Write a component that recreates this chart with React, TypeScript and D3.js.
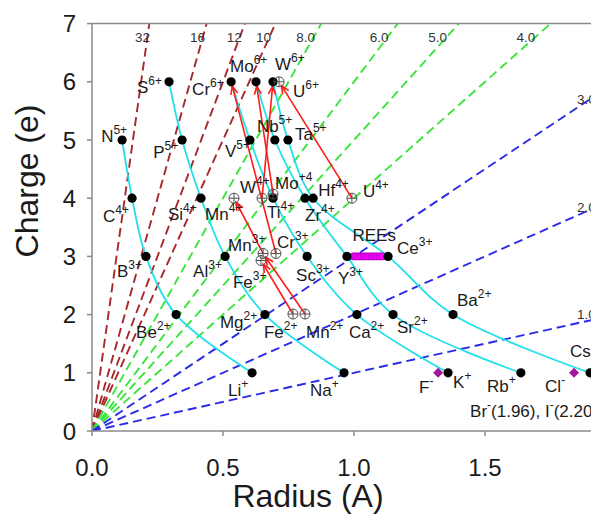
import React from 'react';
import * as d3 from 'd3';

const WIDTH = 591;
const HEIGHT = 519;

type Ion = { id: string; lab: string; sup: string; r: number; z: number };

// Isoelectronic series (black dots joined by cyan curves)
const heSeries: Ion[] = [
  { id: 'N5+', lab: 'N', sup: '5+', r: 0.115, z: 5 },
  { id: 'C4+', lab: 'C', sup: '4+', r: 0.153, z: 4 },
  { id: 'B3+', lab: 'B', sup: '3+', r: 0.206, z: 3 },
  { id: 'Be2+', lab: 'Be', sup: '2+', r: 0.321, z: 2 },
  { id: 'Li+', lab: 'Li', sup: '+', r: 0.611, z: 1 },
];
const neSeries: Ion[] = [
  { id: 'S6+', lab: 'S', sup: '6+', r: 0.294, z: 6 },
  { id: 'P5+', lab: 'P', sup: '5+', r: 0.344, z: 5 },
  { id: 'Si4+', lab: 'Si', sup: '4+', r: 0.416, z: 4 },
  { id: 'Al3+', lab: 'Al', sup: '3+', r: 0.508, z: 3 },
  { id: 'Mg2+', lab: 'Mg', sup: '2+', r: 0.66, z: 2 },
  { id: 'Na+', lab: 'Na', sup: '+', r: 0.962, z: 1 },
];
const arSeries: Ion[] = [
  { id: 'Cr6+', lab: 'Cr', sup: '6+', r: 0.531, z: 6 },
  { id: 'V5+', lab: 'V', sup: '5+', r: 0.603, z: 5 },
  { id: 'Ti4+', lab: 'Ti', sup: '4+', r: 0.691, z: 4 },
  { id: 'Sc3+', lab: 'Sc', sup: '3+', r: 0.821, z: 3 },
  { id: 'Ca2+', lab: 'Ca', sup: '2+', r: 1.011, z: 2 },
  { id: 'K+', lab: 'K', sup: '+', r: 1.359, z: 1 },
];
const krSeries: Ion[] = [
  { id: 'Mo6+', lab: 'Mo', sup: '6+', r: 0.626, z: 6 },
  { id: 'Nb5+', lab: 'Nb', sup: '5+', r: 0.698, z: 5 },
  { id: 'Zr4+', lab: 'Zr', sup: '4+', r: 0.813, z: 4 },
  { id: 'Y3+', lab: 'Y', sup: '3+', r: 0.973, z: 3 },
  { id: 'Sr2+', lab: 'Sr', sup: '2+', r: 1.149, z: 2 },
  { id: 'Rb+', lab: 'Rb', sup: '+', r: 1.637, z: 1 },
];
const xeSeries: Ion[] = [
  { id: 'W6+', lab: 'W', sup: '6+', r: 0.691, z: 6 },
  { id: 'Ta5+', lab: 'Ta', sup: '5+', r: 0.748, z: 5 },
  { id: 'Hf4+', lab: 'Hf', sup: '4+', r: 0.844, z: 4 },
  { id: 'Ce3+', lab: 'Ce', sup: '3+', r: 1.13, z: 3 },
  { id: 'Ba2+', lab: 'Ba', sup: '2+', r: 1.378, z: 2 },
  { id: 'Cs+', lab: 'Cs', sup: '+', r: 1.901, z: 1 },
];

// Redox-sensitive ions (circle-plus symbols)
const redoxIons: Ion[] = [
  { id: 'U6+', lab: 'U', sup: '6+', r: 0.714, z: 6 },
  { id: 'Mn4+', lab: 'Mn', sup: '4+', r: 0.542, z: 4 },
  { id: 'W4+', lab: 'W', sup: '4+', r: 0.649, z: 4 },
  { id: 'Mo4+', lab: 'Mo', sup: '+4', r: 0.691, z: 4.07 },
  { id: 'U4+', lab: 'U', sup: '4+', r: 0.992, z: 4 },
  { id: 'Mn3+', lab: 'Mn', sup: '3+', r: 0.653, z: 3.05 },
  { id: 'Fe3+', lab: 'Fe', sup: '3+', r: 0.645, z: 2.93 },
  { id: 'Cr3+', lab: 'Cr', sup: '3+', r: 0.702, z: 3.05 },
  { id: 'Fe2+', lab: 'Fe', sup: '2+', r: 0.767, z: 2.01 },
  { id: 'Mn2+', lab: 'Mn', sup: '2+', r: 0.813, z: 2.01 },
];

// Anions (purple diamonds), plotted at |charge|
const anions: Ion[] = [
  { id: 'F-', lab: 'F', sup: '-', r: 1.321, z: 1 },
  { id: 'Cl-', lab: 'Cl', sup: '-', r: 1.84, z: 1 },
];

// Rare earth elements band
const reeRadii = [0.998, 1.008, 1.018, 1.028, 1.038, 1.048, 1.058, 1.068, 1.078, 1.088, 1.098, 1.108];
const reeCharge = 3;

const redoxArrows: [string, string][] = [
  ['Fe2+', 'Fe3+'],
  ['Mn2+', 'Mn3+'],
  ['Mn3+', 'Mn4+'],
  ['Cr3+', 'Cr6+'],
  ['W4+', 'W6+'],
  ['Mo4+', 'Mo6+'],
  ['U4+', 'U6+'],
];

// Ionic potential lines Z/r
const ionicPotentials = [32, 16, 12, 10, 8, 6, 5, 4, 3, 2, 1];
const ipLabels = ['32', '16', '12', '10', '8.0', '6.0', '5.0', '4.0', '3.0', '2.0', '1.0'];

const xTicks = [0, 0.5, 1.0, 1.5];
const xTickLabels = ['0.0', '0.5', '1.0', '1.5'];
const yTicks = [0, 1, 2, 3, 4, 5, 6, 7];

// Layout: label offsets (px) from marker to text start / baseline
const labelOffsets: Record<string, [number, number]> = {
  'N5+': [-21, 2], 'C4+': [-29, 24], 'B3+': [-29, 21], 'Be2+': [-40, 23], 'Li+': [-24, 23],
  'S6+': [-32, 11], 'P5+': [-29, 18], 'Si4+': [-33, 22], 'Al3+': [-32, 21], 'Mg2+': [-45, 13], 'Na+': [-34, 23],
  'Cr6+': [-39, 13], 'V5+': [-25, 17], 'Ti4+': [-6, 20], 'Sc3+': [-11, 25], 'Ca2+': [-8, 23], 'K+': [5, 15],
  'Mo6+': [-26, -10], 'Nb5+': [-18, -8], 'Zr4+': [0, 23], 'Y3+': [-9, 28], 'Sr2+': [4, 18], 'Rb+': [-34, 19],
  'W6+': [2, -12], 'Ta5+': [7, 0], 'Hf4+': [5, -2], 'Ce3+': [9, -2], 'Ba2+': [4, -9], 'Cs+': [-20, -16],
  'U6+': [14, 15], 'Mn4+': [-29, 22], 'W4+': [-22, -5], 'Mo4+': [2, -5], 'U4+': [11, -1],
  'Mn3+': [-35, -2], 'Fe3+': [-28, 28], 'Cr3+': [1, -5], 'Fe2+': [-29, 24], 'Mn2+': [1, 24],
  'F-': [-19, 20], 'Cl-': [-29, 19],
};

const FONT = 'Liberation Sans, Arial, Helvetica, sans-serif';
const RED_DASH = '#a8282a';
const GREEN_DASH = '#3ae43a';
const BLUE_DASH = '#2a2ae8';
const CYAN = '#22e0ea';
const ARROW_RED = '#ff1a1a';
const AXIS = '#8a8a8a';

const x = d3.scaleLinear().domain([0, 2]).range([92, 92 + 2 * 262]);
const y = d3.scaleLinear().domain([0, 7]).range([431, 431 - 7 * 58.2]);

const curve = d3
  .line<Ion>()
  .x((d) => x(d.r))
  .y((d) => y(d.z))
  .curve(d3.curveCatmullRom.alpha(0.5));

const allSeries = [heSeries, neSeries, arSeries, krSeries, xeSeries];
const allIons: Ion[] = [...allSeries.flat(), ...redoxIons, ...anions];
const ionById = new Map(allIons.map((d) => [d.id, d]));

function ipColor(k: number) {
  if (k >= 10) return RED_DASH;
  if (k >= 4) return GREEN_DASH;
  return BLUE_DASH;
}

function IonLabel({ d }: { d: Ion }) {
  const off = labelOffsets[d.id] || [6, -6];
  return (
    <text x={x(d.r) + off[0]} y={y(d.z) + off[1]} fontSize={17} fontFamily={FONT} fill="#1a1a1a">
      <tspan>{d.lab}</tspan>
      <tspan dy={-8} fontSize={12}>{d.sup}</tspan>
    </text>
  );
}

function CirclePlus({ d }: { d: Ion }) {
  const cx = x(d.r);
  const cy = y(d.z);
  const rr = 5;
  return (
    <g stroke="#505050" strokeWidth={1} fill="none">
      <circle cx={cx} cy={cy} r={rr} />
      <line x1={cx - rr} x2={cx + rr} y1={cy} y2={cy} />
      <line x1={cx} x2={cx} y1={cy - rr} y2={cy + rr} />
    </g>
  );
}

export default function App() {
  const xMax = x.domain()[1];
  const zMax = y.domain()[1];

  return (
    <svg
      width={WIDTH}
      height={HEIGHT}
      style={{ position: 'absolute', left: 0, top: 0, background: '#fff' }}
    >
      <defs>
        <marker
          id="ah"
          markerUnits="userSpaceOnUse"
          markerWidth={12}
          markerHeight={12}
          refX={10}
          refY={6}
          orient="auto"
        >
          <path d="M2,2.5 L10,6 L2,9.5" fill="none" stroke={ARROW_RED} strokeWidth={1.6} />
        </marker>
        <clipPath id="plot">
          <rect x={x(0)} y={y(zMax)} width={x(xMax) - x(0)} height={y(0) - y(zMax)} />
        </clipPath>
      </defs>

      {/* ionic potential dashed lines */}
      <g clipPath="url(#plot)">
        {ionicPotentials.map((k) => {
          const rEnd = Math.min(zMax / k, xMax);
          const zEnd = k * rEnd;
          return (
            <line
              key={k}
              x1={x(0)}
              y1={y(0)}
              x2={x(rEnd)}
              y2={y(zEnd)}
              stroke={ipColor(k)}
              strokeWidth={1.9}
              strokeDasharray="9,5"
            />
          );
        })}
      </g>

      {/* ionic potential labels */}
      {ionicPotentials.map((k, i) => {
        const exitsTop = zMax / k < 1.9;
        if (exitsTop) {
          const zl = 6.72;
          return (
            <text
              key={'l' + k}
              x={x(zl / k) + 3}
              y={y(zl) + 2}
              textAnchor="end"
              fontSize={13.5}
              fontFamily={FONT}
              fill="#333"
            >
              {ipLabels[i]}
            </text>
          );
        }
        const rl = 1.851;
        return (
          <text
            key={'l' + k}
            x={x(rl)}
            y={y(k * rl) - 4}
            textAnchor="start"
            fontSize={13.5}
            fontFamily={FONT}
            fill="#333"
          >
            {ipLabels[i]}
          </text>
        );
      })}

      {/* isoelectronic curves */}
      {allSeries.map((s, i) => (
        <path key={'s' + i} d={curve(s) || ''} fill="none" stroke={CYAN} strokeWidth={1.8} />
      ))}

      {/* redox arrows */}
      {redoxArrows.map(([a, b]) => {
        const p = ionById.get(a)!;
        const q = ionById.get(b)!;
        const x1 = x(p.r);
        const y1 = y(p.z);
        const x2 = x(q.r);
        const y2 = y(q.z);
        const len = Math.hypot(x2 - x1, y2 - y1);
        const sh = 4.5;
        return (
          <line
            key={a + b}
            x1={x1}
            y1={y1}
            x2={x2 - ((x2 - x1) / len) * sh}
            y2={y2 - ((y2 - y1) / len) * sh}
            stroke={ARROW_RED}
            strokeWidth={1.6}
            markerEnd="url(#ah)"
          />
        );
      })}

      {/* REE band */}
      {reeRadii.map((r, i) => (
        <circle
          key={'ree' + i}
          cx={x(r)}
          cy={y(reeCharge)}
          r={3.6}
          fill="#ff00ff"
          stroke="#a000b0"
          strokeWidth={0.8}
        />
      ))}

      {/* black dots */}
      {allSeries.flat().map((d) => (
        <circle key={d.id} cx={x(d.r)} cy={y(d.z)} r={4.6} fill="#000" />
      ))}

      {/* redox symbols */}
      {redoxIons.map((d) => (
        <CirclePlus key={d.id} d={d} />
      ))}

      {/* anions */}
      {anions.map((d) => {
        const cx = x(d.r);
        const cy = y(d.z);
        const s = 5;
        return (
          <path
            key={d.id}
            d={`M${cx},${cy - s} L${cx + s},${cy} L${cx},${cy + s} L${cx - s},${cy} Z`}
            fill="#a3169f"
          />
        );
      })}

      {/* labels */}
      {allIons.map((d) => (
        <IonLabel key={'t' + d.id} d={d} />
      ))}
      <text x={x(0.998) - 1} y={y(reeCharge) - 15} fontSize={17} fontFamily={FONT} fill="#1a1a1a">
        REEs
      </text>
      <text x={x(1.443)} y={y(0.24)} fontSize={17} fontFamily={FONT} fill="#1a1a1a">
        <tspan>Br</tspan>
        <tspan dy={-8} fontSize={12}>-</tspan>
        <tspan dy={8}>(1.96), I</tspan>
        <tspan dy={-8} fontSize={12}>-</tspan>
        <tspan dy={8}>(2.20)</tspan>
      </text>

      {/* axes frame */}
      <g stroke={AXIS} strokeWidth={1.5} fill="none">
        <line x1={x(0)} x2={x(0)} y1={y(0)} y2={y(zMax)} />
        <line x1={x(0)} x2={x(xMax)} y1={y(0)} y2={y(0)} />
        <line x1={x(0)} x2={x(xMax)} y1={y(zMax)} y2={y(zMax)} />
        {yTicks.map((t) => (
          <line key={'yt' + t} x1={x(0) - 5} x2={x(0)} y1={y(t)} y2={y(t)} />
        ))}
        {xTicks.map((t) => (
          <line key={'xt' + t} x1={x(t)} x2={x(t)} y1={y(0)} y2={y(0) + 5} />
        ))}
      </g>

      {yTicks.map((t) => (
        <text
          key={'yl' + t}
          x={76}
          y={y(t) + 8.5}
          textAnchor="end"
          fontSize={24}
          fontFamily={FONT}
          fill="#1a1a1a"
        >
          {t}
        </text>
      ))}
      {xTicks.map((t, i) => (
        <text
          key={'xl' + t}
          x={x(t)}
          y={476}
          textAnchor="middle"
          fontSize={24}
          fontFamily={FONT}
          fill="#1a1a1a"
        >
          {xTickLabels[i]}
        </text>
      ))}

      <text x={308} y={507} textAnchor="middle" fontSize={32} fontFamily={FONT} fill="#1a1a1a">
        Radius (A)
      </text>
      <text
        transform={`translate(38, ${181}) rotate(-90)`}
        textAnchor="middle"
        fontSize={32}
        fontFamily={FONT}
        fill="#1a1a1a"
      >
        Charge (e)
      </text>
    </svg>
  );
}
